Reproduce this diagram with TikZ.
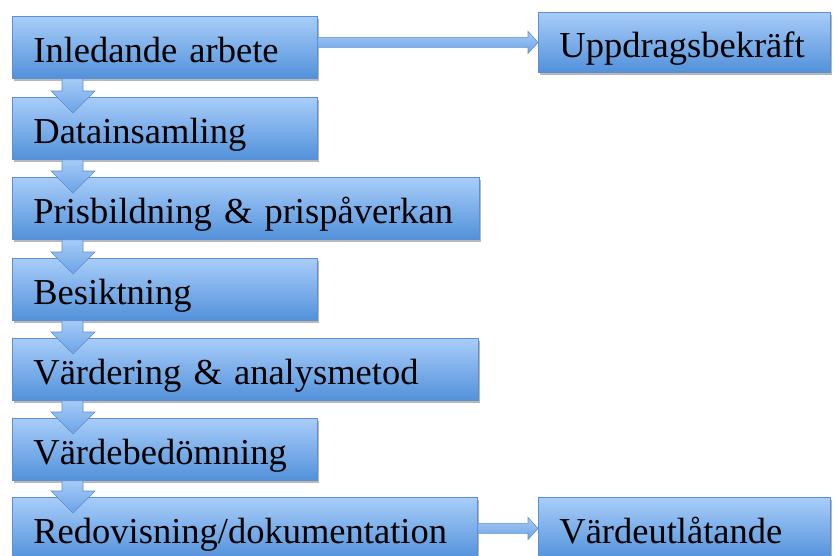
\documentclass[tikz,border=0pt]{standalone}
\usepackage{fontspec}
\setmainfont{Liberation Serif}
\usetikzlibrary{calc,shadows}
\definecolor{boxtop}{RGB}{168,205,249}
\definecolor{boxbot}{RGB}{82,145,218}
\definecolor{boxline}{RGB}{92,142,210}
\definecolor{arrtop}{RGB}{166,203,248}
\definecolor{arrbot}{RGB}{108,163,229}
\tikzset{
  stepbox/.style={draw=boxline, line width=0.8pt, top color=boxtop, bottom color=boxbot,
    anchor=north west, minimum height=62pt, inner xsep=21pt, inner ysep=0pt,
    text height=30pt, text depth=0pt, align=left,
    font=\fontsize{36.5pt}{40pt}\selectfont,
    drop shadow={shadow xshift=1.5pt, shadow yshift=-3pt, opacity=0.28, fill=black}},
  flowarrow/.style={draw=boxline, line width=0.6pt, top color=arrtop, bottom color=arrbot, line join=miter}
}
\newcommand\downarr[2]{\path[flowarrow]
  ($(#1.south west)+(50,0)$) -- ($(#1.south west)+(71,0)$) --
  ($(#2.north west)+(71,-6)$) -- ($(#2.north west)+(83,-6)$) --
  ($(#2.north west)+(61,16)$) -- ($(#2.north west)+(39,-6)$) --
  ($(#2.north west)+(50,-6)$) -- cycle;}
\newcommand\rightarr[2]{\path[flowarrow]
  ($(#1.east |- #2.west)+(0,-5)$) -- ($(#2.west)+(-10,-5)$) --
  ($(#2.west)+(-10,-11)$) -- (#2.west) -- ($(#2.west)+(-10,11)$) --
  ($(#2.west)+(-10,5)$) -- ($(#1.east |- #2.west)+(0,5)$) -- cycle;}
\begin{document}
\begin{tikzpicture}[x=1pt,y=-1pt]
\useasboundingbox (0,0) rectangle (835,555);
\clip (0,0) rectangle (835,555);
\node[stepbox, text width=263pt] (b1) at (12,16) {\mbox{Inledande arbete}};
\node[stepbox, text width=263pt] (b2) at (12,97) {\mbox{Datainsamling}};
\node[stepbox, text width=425pt] (b3) at (12,177) {\mbox{Prisbildning \& prispåverkan}};
\node[stepbox, text width=263pt] (b4) at (12,258) {\mbox{Besiktning}};
\node[stepbox, text width=424pt] (b5) at (12,338) {\mbox{Värdering \& analysmetod}};
\node[stepbox, text width=263pt] (b6) at (12,418) {\mbox{Värdebedömning}};
\node[stepbox, text width=423pt] (b7) at (12,497) {\mbox{Redovisning/dokumentation}};
\node[stepbox, text width=250pt, minimum height=60pt] (u) at (538,12) {\mbox{Uppdragsbekräft}};
\node[stepbox, text width=250pt] (v) at (538,497) {\mbox{Värdeutlåtande}};
\downarr{b1}{b2}
\downarr{b2}{b3}
\downarr{b3}{b4}
\downarr{b4}{b5}
\downarr{b5}{b6}
\downarr{b6}{b7}
\rightarr{b1}{u}
\rightarr{b7}{v}
\end{tikzpicture}
\end{document}
